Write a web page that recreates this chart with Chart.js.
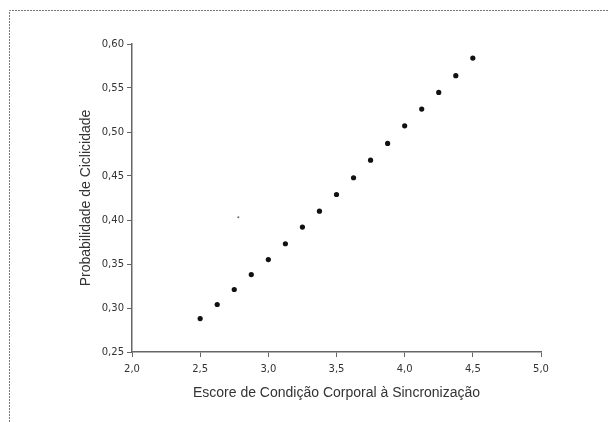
<!DOCTYPE html>
<html>
<head>
<meta charset="utf-8">
<script src="https://cdn.jsdelivr.net/npm/chart.js@4"></script>
<style>
  html, body { margin: 0; padding: 0; background: #fff; }
  #wrap { width: 609px; height: 422px; }
</style>
</head>
<body>
<div id="wrap"><canvas id="chart" width="609" height="422"></canvas></div>
<script>
// escore de condição corporal (x) e probabilidade de ciclicidade (y)
const ecc = [2.5, 2.625, 2.75, 2.875, 3.0, 3.125, 3.25, 3.375, 3.5, 3.625, 3.75, 3.875, 4.0, 4.125, 4.25, 4.375, 4.5];
const prob = [0.288, 0.304, 0.321, 0.338, 0.355, 0.373, 0.392, 0.410, 0.429, 0.448, 0.468, 0.487, 0.507, 0.526, 0.545, 0.564, 0.584];
// small stray mark in the original figure
const strayX = [2.78];
const strayY = [0.403];

const xTicks = [2.0, 2.5, 3.0, 3.5, 4.0, 4.5, 5.0];
const yTicks = [0.25, 0.30, 0.35, 0.40, 0.45, 0.50, 0.55, 0.60];

const comma = (v, d) => v.toFixed(d).replace(".", ",");

// dashed frame on top and left, as in the scanned figure
const framePlugin = {
  id: "frame",
  beforeDraw(chart) {
    const c = chart.ctx;
    c.save();
    c.strokeStyle = "#777";
    c.lineWidth = 1;
    c.setLineDash([2, 1]);
    c.beginPath();
    c.moveTo(9.5, 422);
    c.lineTo(9.5, 10.5);
    c.lineTo(609, 10.5);
    c.stroke();
    c.restore();
  },
};

const ctx = document.getElementById("chart").getContext("2d");
new Chart(ctx, {
  type: "scatter",
  data: {
    datasets: [
      {
        label: "Probabilidade",
        data: ecc.map((x, i) => ({ x: x, y: prob[i] })),
        backgroundColor: "#111",
        borderColor: "#111",
        pointRadius: 2.6,
        borderWidth: 0,
      },
      {
        label: "stray",
        data: strayX.map((x, i) => ({ x: x, y: strayY[i] })),
        backgroundColor: "#666",
        borderColor: "#666",
        pointRadius: 1,
        borderWidth: 0,
      },
    ],
  },
  options: {
    responsive: false,
    animation: false,
    layout: { padding: { left: 74, top: 44, right: 68, bottom: 16 } },
    plugins: {
      legend: { display: false },
      tooltip: { enabled: false },
    },
    scales: {
      x: {
        type: "linear",
        min: 2.0,
        max: 5.0,
        afterBuildTicks: (s) => { s.ticks = xTicks.map((v) => ({ value: v })); },
        afterFit: (s) => { s.height = 54; },
        border: { color: "#666", width: 1.5 },
        grid: { drawOnChartArea: false, color: "#666", tickLength: 5 },
        ticks: {
          color: "#333",
          padding: 6,
          font: { family: "DejaVu Sans", size: 10 },
          callback: (v) => comma(v, 1),
        },
        title: {
          display: true,
          text: "Escore de Condição Corporal à Sincronização",
          color: "#333",
          font: { family: "Liberation Sans", size: 14 },
        },
      },
      y: {
        type: "linear",
        min: 0.25,
        max: 0.60,
        afterBuildTicks: (s) => { s.ticks = yTicks.map((v) => ({ value: v })); },
        afterFit: (s) => { s.width = 58; },
        border: { color: "#666", width: 1.5 },
        grid: { drawOnChartArea: false, color: "#666", tickLength: 5 },
        ticks: {
          color: "#333",
          padding: 3,
          font: { family: "DejaVu Sans", size: 10 },
          callback: (v) => comma(v, 2),
        },
        title: {
          display: true,
          text: "Probabilidade de Ciclicidade",
          color: "#333",
          font: { family: "Liberation Sans", size: 14 },
        },
      },
    },
  },
  plugins: [framePlugin],
});
</script>
</body>
</html>
